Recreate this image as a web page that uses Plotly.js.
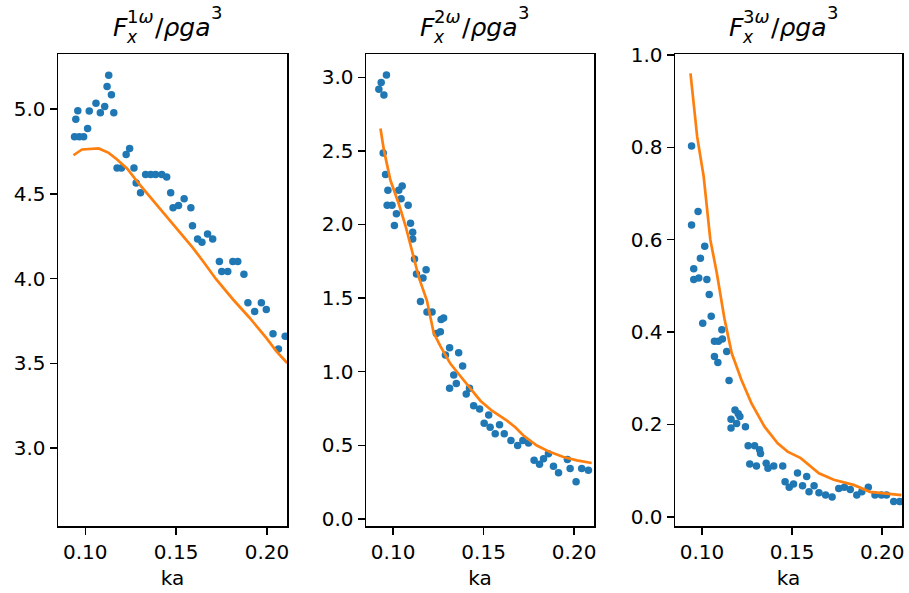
<!DOCTYPE html>
<html>
<head>
<meta charset="utf-8">
<script src="https://cdn.plot.ly/plotly-3.0.1.min.js"></script>
<style>html,body{margin:0;padding:0;background:#fff;}#plot{width:909px;height:593px;}</style>
</head>
<body>
<div id="plot"></div>
<script>
// ---- Panel 1: F_x^{1w}/rho g a^3 ----
const ka1Pts = [0.0948,0.0959,0.0941,0.0967,0.0991,0.1013,0.1022,0.1059,0.1083,0.1107,0.1120,0.1129,0.1144,0.1157,0.1175,0.1199,0.1225,0.1244,0.1268,0.1280,0.1304,0.1332,0.1360,0.1387,0.1421,0.1448,0.1470,0.1483,0.1513,0.1544,0.1581,0.1590,0.1618,0.1642,0.1673,0.1701,0.1738,0.1751,0.1784,0.1812,0.1839,0.1873,0.1895,0.1932,0.1969,0.1996,0.2033,0.2063,0.2100];
const f1Pts  = [4.94,4.99,4.836,4.836,4.836,4.885,4.988,5.034,4.978,5.014,5.132,5.198,5.083,4.978,4.652,4.652,4.731,4.767,4.652,4.563,4.506,4.613,4.613,4.613,4.613,4.599,4.506,4.417,4.431,4.470,4.417,4.312,4.233,4.214,4.263,4.233,4.101,4.042,4.042,4.101,4.101,4.026,3.858,3.805,3.858,3.818,3.674,3.585,3.660];
const ka1Line = [0.0935,0.0982,0.1074,0.1129,0.1175,0.1231,0.1295,0.1387,0.1480,0.1590,0.1646,0.1720,0.1812,0.1904,0.1996,0.2052,0.2111];
const f1Line  = [4.727,4.761,4.767,4.741,4.702,4.648,4.559,4.441,4.322,4.184,4.105,3.996,3.878,3.769,3.650,3.571,3.502];

// ---- Panel 2: F_x^{2w}/rho g a^3 ----
const ka2Pts = [0.0963,0.0934,0.0921,0.0949,0.0945,0.0958,0.0971,0.0967,0.0994,0.1007,0.1018,0.1031,0.1050,0.1044,0.1083,0.1096,0.1108,0.1108,0.1118,0.1129,0.1165,0.1182,0.1151,0.1187,0.1215,0.1239,0.1261,0.1265,0.1279,0.1289,0.1312,0.1362,0.1384,0.1335,0.1312,0.1349,0.1404,0.1422,0.1445,0.1478,0.1528,0.1503,0.1536,0.1564,0.1588,0.1614,0.1651,0.1688,0.1717,0.1748,0.1779,0.1809,0.1831,0.1858,0.1886,0.1914,0.1963,0.1978,0.2011,0.2042,0.2079];
const f2Pts  = [3.016,2.964,2.918,2.880,2.486,2.339,2.232,2.130,2.130,1.993,2.073,2.232,2.261,2.175,2.130,2.009,1.948,1.902,1.766,1.664,1.636,1.693,1.477,1.405,1.405,1.259,1.271,1.354,1.365,1.113,1.163,1.129,1.039,0.978,0.888,0.920,0.848,0.888,0.769,0.747,0.706,0.650,0.623,0.578,0.639,0.578,0.533,0.499,0.533,0.515,0.398,0.371,0.409,0.443,0.358,0.313,0.403,0.342,0.252,0.342,0.331];
const ka2Line = [0.0930,0.0949,0.0985,0.1031,0.1068,0.1105,0.1142,0.1187,0.1224,0.1261,0.1316,0.1371,0.1426,0.1482,0.1546,0.1629,0.1675,0.1720,0.1794,0.1868,0.1941,0.2015,0.2097];
const f2Line  = [2.652,2.505,2.300,2.141,1.993,1.823,1.641,1.482,1.264,1.174,1.055,0.971,0.888,0.803,0.735,0.668,0.623,0.567,0.499,0.454,0.421,0.398,0.380];

// ---- Panel 3: F_x^{3w}/rho g a^3 ----
const ka3Pts = [0.0942,0.0978,0.0942,0.1015,0.0991,0.0954,0.0954,0.0982,0.1027,0.1040,0.1051,0.1004,0.1069,0.1091,0.1113,0.1110,0.1069,0.1088,0.1137,0.1150,0.1183,0.1201,0.1161,0.1210,0.1161,0.1192,0.1241,0.1256,0.1292,0.1320,0.1325,0.1265,0.1302,0.1356,0.1366,0.1398,0.1448,0.1461,0.1484,0.1508,0.1530,0.1558,0.1581,0.1594,0.1622,0.1649,0.1686,0.1722,0.1759,0.1790,0.1823,0.1859,0.1887,0.1923,0.1960,0.1996,0.2024,0.2064,0.2097];
const f3Pts  = [0.803,0.661,0.632,0.586,0.560,0.537,0.514,0.517,0.514,0.481,0.434,0.419,0.380,0.380,0.385,0.405,0.347,0.334,0.358,0.295,0.231,0.223,0.211,0.217,0.192,0.202,0.195,0.154,0.154,0.145,0.137,0.114,0.110,0.116,0.105,0.110,0.110,0.076,0.064,0.071,0.095,0.067,0.087,0.054,0.067,0.052,0.047,0.043,0.061,0.064,0.059,0.047,0.054,0.064,0.047,0.047,0.047,0.033,0.033];
const ka3Line = [0.0936,0.0973,0.1009,0.1046,0.1082,0.1124,0.1165,0.1219,0.1274,0.1347,0.1420,0.1475,0.1548,0.1603,0.1649,0.1731,0.1841,0.1932,0.2024,0.2106];
const f3Line  = [0.960,0.823,0.737,0.600,0.528,0.430,0.354,0.296,0.246,0.195,0.159,0.141,0.127,0.108,0.094,0.080,0.069,0.054,0.051,0.047];

const yRanges = [[2.541,5.324],[-0.048,3.158],[-0.020,1.002]];
const yDticks = [0.5,0.5,0.2];
const titleNums = ['1','2','3'];
const xTickVals = [0.10,0.15,0.20];

const W = 909, H = 593;
const M = {l:58, r:7, t:54, b:67};
const panelPx = [[58,287],[366,594],[675,902]];
const pw = W - M.l - M.r;
const ph = H - M.t - M.b;

const blue = '#1f77b4', orange = '#ff7f0e';
const font = 'DejaVu Sans, sans-serif';

const sets = [[ka1Pts,f1Pts,ka1Line,f1Line],[ka2Pts,f2Pts,ka2Line,f2Line],[ka3Pts,f3Pts,ka3Line,f3Line]];
const data = [];
sets.forEach((s,i)=>{
  const xa = i===0?'x':'x'+(i+1), ya = i===0?'y':'y'+(i+1);
  data.push({x:s[0], y:s[1], type:'scatter', mode:'markers', xaxis:xa, yaxis:ya,
    marker:{color:blue, size:7.5, line:{width:0}}, showlegend:false, hoverinfo:'skip'});
  data.push({x:s[2], y:s[3], type:'scatter', mode:'lines', xaxis:xa, yaxis:ya,
    line:{color:orange, width:2.7}, showlegend:false, hoverinfo:'skip'});
});

const layout = {
  width:W, height:H, margin:M, paper_bgcolor:'#fff', plot_bgcolor:'#fff',
  font:{family:font, size:20, color:'#000'}, showlegend:false, annotations:[]
};
const py2paper = py => (H - M.b - py)/ph;
const px2paper = px => (px - M.l)/pw;
panelPx.forEach((p,i)=>{
  const sfx = i===0?'':String(i+1);
  layout['xaxis'+sfx] = {
    domain:[px2paper(p[0]), px2paper(p[1])], range:[0.085,0.211], anchor:'y'+sfx,
    tickvals:xTickVals, tickformat:'.2f', ticks:'outside', ticklen:7, tickwidth:1.5, tickcolor:'#000',
    showline:true, mirror:true, linecolor:'#000', linewidth:1.5, showgrid:false, zeroline:false,
    tickfont:{family:font, size:20, color:'#000'},
    title:{text:'ka', font:{family:font, size:20, color:'#000'}, standoff:8}
  };
  layout['yaxis'+sfx] = {
    domain:[0,1], range:yRanges[i], anchor:'x'+sfx, dtick:yDticks[i], tick0:0, tickformat:'.1f',
    ticks:'outside', ticklen:7, tickwidth:1.5, tickcolor:'#000',
    showline:true, mirror:true, linecolor:'#000', linewidth:1.5, showgrid:false, zeroline:false,
    tickfont:{family:font, size:20, color:'#000'}
  };
  const c = (p[0]+p[1])/2 - 2;
  const A = (txt, dx, cy, size) => layout.annotations.push({
    text:txt, xref:'paper', yref:'paper', x:px2paper(c+dx), y:py2paper(cy),
    xanchor:'left', yanchor:'middle', showarrow:false, align:'left',
    font:{family:font, size:size, color:'#000'}
  });
  A('<i>F</i>', -60, 27, 25);
  A(titleNums[i]+'<i>ω</i>', -46, 16, 18);
  A('<i>x</i>', -47, 37, 17);
  A('/<i>ρga</i>', -18, 27, 25);
  A('3', 38, 13, 18);
});

Plotly.newPlot('plot', data, layout, {staticPlot:true});
</script>
</body>
</html>
